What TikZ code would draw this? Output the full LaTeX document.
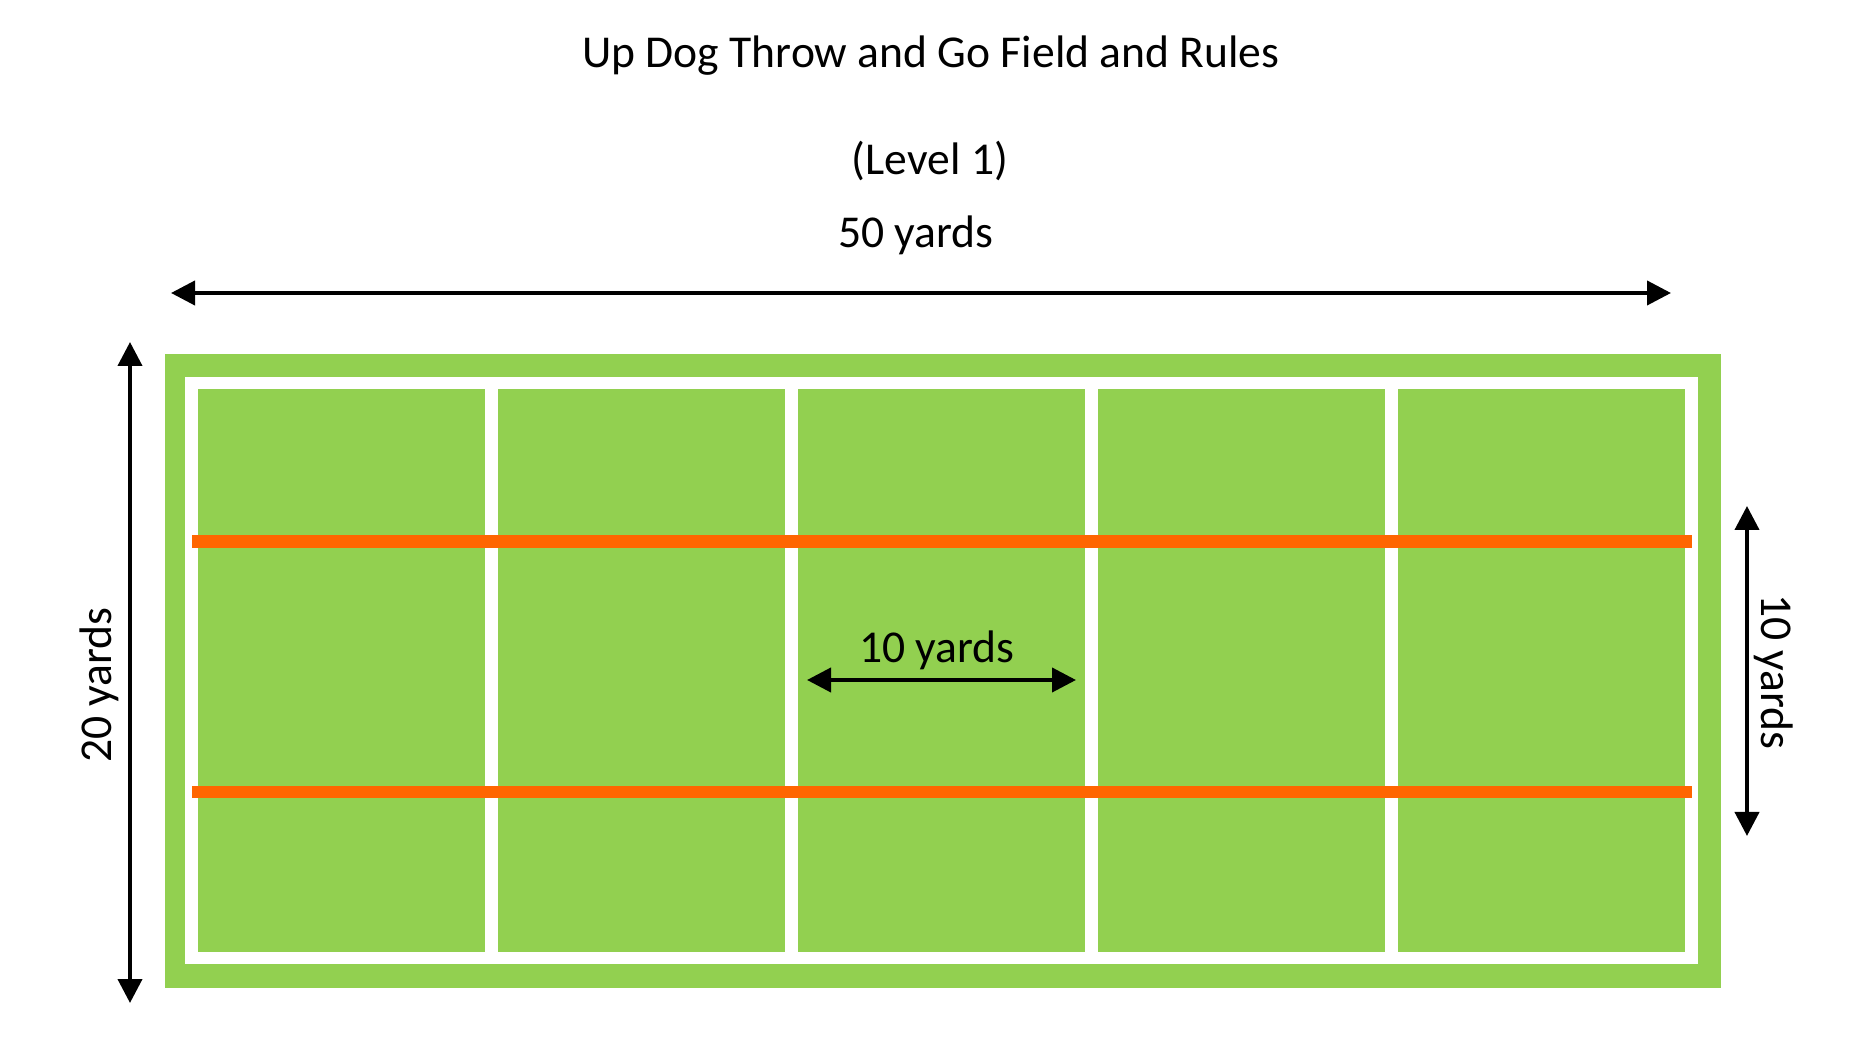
\documentclass[tikz,border=0pt]{standalone}
\usepackage{fontspec}
\setmainfont{Carlito}
\usetikzlibrary{arrows.meta}
\definecolor{fieldgreen}{HTML}{92D050}
\definecolor{lineorange}{HTML}{FF6600}
\begin{document}
\begin{tikzpicture}[x=0.5pt,y=-0.5pt,
  lbl/.style={inner sep=0pt,font=\fontsize{22.8}{27}\selectfont},
  dimarrow/.style={line width=2pt,{Triangle[length=12pt,width=12pt]}-{Triangle[length=12pt,width=12pt]}},
  cell/.style={fill=fieldgreen},
  stripe/.style={fill=lineorange}]
\useasboundingbox (0,0) rectangle (1865,1058);
\fill[white] (0,0) rectangle (1865,1058);
% texts
\node[lbl,anchor=base] (title) at (931,68) {Up Dog Throw and Go Field and Rules};
\node[lbl,anchor=base] (level) at (930,175) {(Level 1)};
\node[lbl,anchor=base] (fifty) at (916,248) {50 yards};
% field
\fill[fieldgreen] (165,354) rectangle (1721,988);
\fill[white] (185,377) rectangle (1698,964);
\foreach \i in {0,...,4}{
  \fill[cell] ({198+300*\i},389) rectangle ({485+300*\i},952);
}
\fill[stripe] (192,535) rectangle (1692,548);
\fill[stripe] (192,786) rectangle (1692,798);
% dimension arrows
\coordinate (tl) at (171,293);
\coordinate (tr) at (1671,293);
\draw[dimarrow] (tl) -- (tr);
\coordinate (lt) at (130,342);
\coordinate (lb) at (130,1003);
\draw[dimarrow] (lt) -- (lb);
\coordinate (rt) at (1747,506);
\coordinate (rb) at (1747,836);
\draw[dimarrow] (rt) -- (rb);
\coordinate (ml) at (807,680);
\coordinate (mr) at (1076,680);
\draw[dimarrow] (ml) -- (mr);
\node[lbl,anchor=base] (ten) at (937,663) {10 yards};
\node[lbl,anchor=base,rotate=90] (twenty) at (112,685) {20 yards};
\node[lbl,anchor=base,rotate=-90] (tenr) at (1761,672) {10 yards};
\end{tikzpicture}
\end{document}
